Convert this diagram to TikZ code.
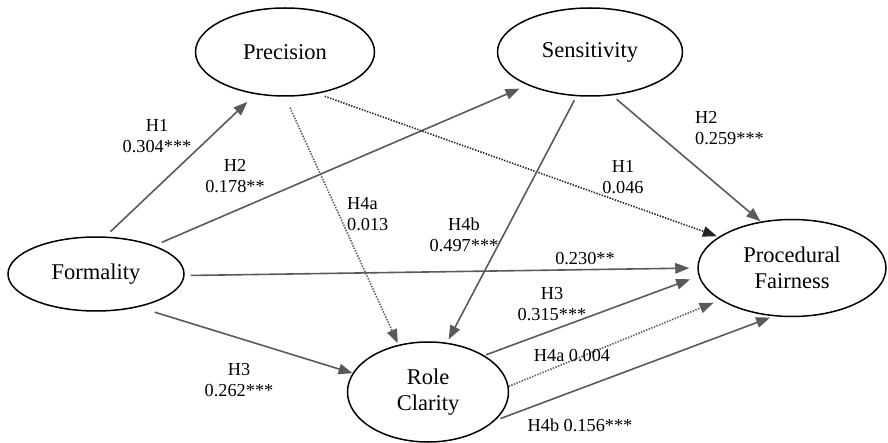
\documentclass[tikz,border=0pt]{standalone}
\usepackage{fontspec}
\setmainfont{Liberation Serif}
\usetikzlibrary{arrows.meta,shapes.geometric}
\definecolor{lgray}{RGB}{90,90,90}
\begin{document}
\begin{tikzpicture}[x=1pt,y=1pt,
  latent/.style={ellipse,draw=black,line width=1.5pt,inner sep=0pt,
    font=\fontsize{22.5}{26}\selectfont,align=center},
  lab/.style={inner sep=0pt,font=\fontsize{18.3}{21}\selectfont,align=center},
  labl/.style={inner sep=0pt,font=\fontsize{18.3}{21}\selectfont,align=left,anchor=west},
  arr/.style={draw=lgray,line width=1.6pt,-{Triangle[length=14pt,width=10.5pt]},color=lgray},
  dotarr/.style={arr,dash pattern=on 1.4pt off 1.4pt},
  blackdot/.style={draw=black!85,line width=1.6pt,dash pattern=on 1.4pt off 1.4pt,
    -{Triangle[length=14pt,width=10.5pt]},color=black!85}]
\useasboundingbox (0,0) rectangle (888,442);
% latent variables
\node[latent,minimum width=179pt,minimum height=88pt] (prec) at (285,390) {Precision};
\node[latent,minimum width=185pt,minimum height=88pt] (sens) at (590,390) {Sensitivity};
\node[latent,minimum width=176pt,minimum height=74pt] (form) at (96,168) {Formality};
\node[latent,minimum width=161pt,minimum height=100pt] (rc) at (428,50) {Role\\Clarity};
\node[latent,minimum width=188pt,minimum height=97pt] (pf) at (792,174) {Procedural\\Fairness};
% paths
\draw[arr,shorten <=7pt,shorten >=11pt] (form.76) -- (prec.235.5);
\draw[arr,shorten <=8pt,shorten >=8.7pt] (form.26.6) -- (sens.208.2);
\draw[dotarr,shorten <=12pt,shorten >=1.6pt] (prec.270) -- (rc.122);
\draw[blackdot,shorten <=7.6pt,shorten >=1.9pt] (prec.308.2) -- (pf.157.5);
\draw[arr,shorten <=4.6pt,shorten >=3.6pt] (sens.253.7) -- (rc.69);
\draw[arr,shorten <=5.9pt,shorten >=0.4pt] (sens.297.5) -- (pf.124.8);
\draw[arr,shorten <=6pt,shorten >=8pt] (form.-1.2) -- (pf.180.6);
\draw[arr,shorten <=17pt,shorten >=0pt] (form.322.5) -- (rc.166);
\draw[arr,shorten <=1.7pt,shorten >=9pt] (rc.33) -- (pf.185);
\draw[dotarr,shorten <=0pt,shorten >=7pt] (rc.4.3) -- (pf.204.4);
\draw[arr,shorten <=5.6pt,shorten >=3.6pt] (rc.337.4) -- (pf.249.6);
% labels
\node[lab] (l1) at (157,306) {H1\\0.304***};
\node[lab] (l2) at (235,266) {H2\\0.178**};
\node[labl] (l3) at (347,228) {H4a\\0.013};
\node[lab] (l4) at (464,207) {H4b\\0.497***};
\node[labl] (l5) at (695,314) {H2\\0.259***};
\node[lab] (l6) at (623,265) {H1\\0.046};
\node[lab] (l7) at (585,183) {0.230**};
\node[lab] (l8) at (552,138) {H3\\0.315***};
\node[lab] (l9) at (572,86) {H4a 0.004};
\node[lab] (l10) at (580,17) {H4b 0.156***};
\node[lab] (l11) at (239,62) {H3\\0.262***};
\end{tikzpicture}
\end{document}
